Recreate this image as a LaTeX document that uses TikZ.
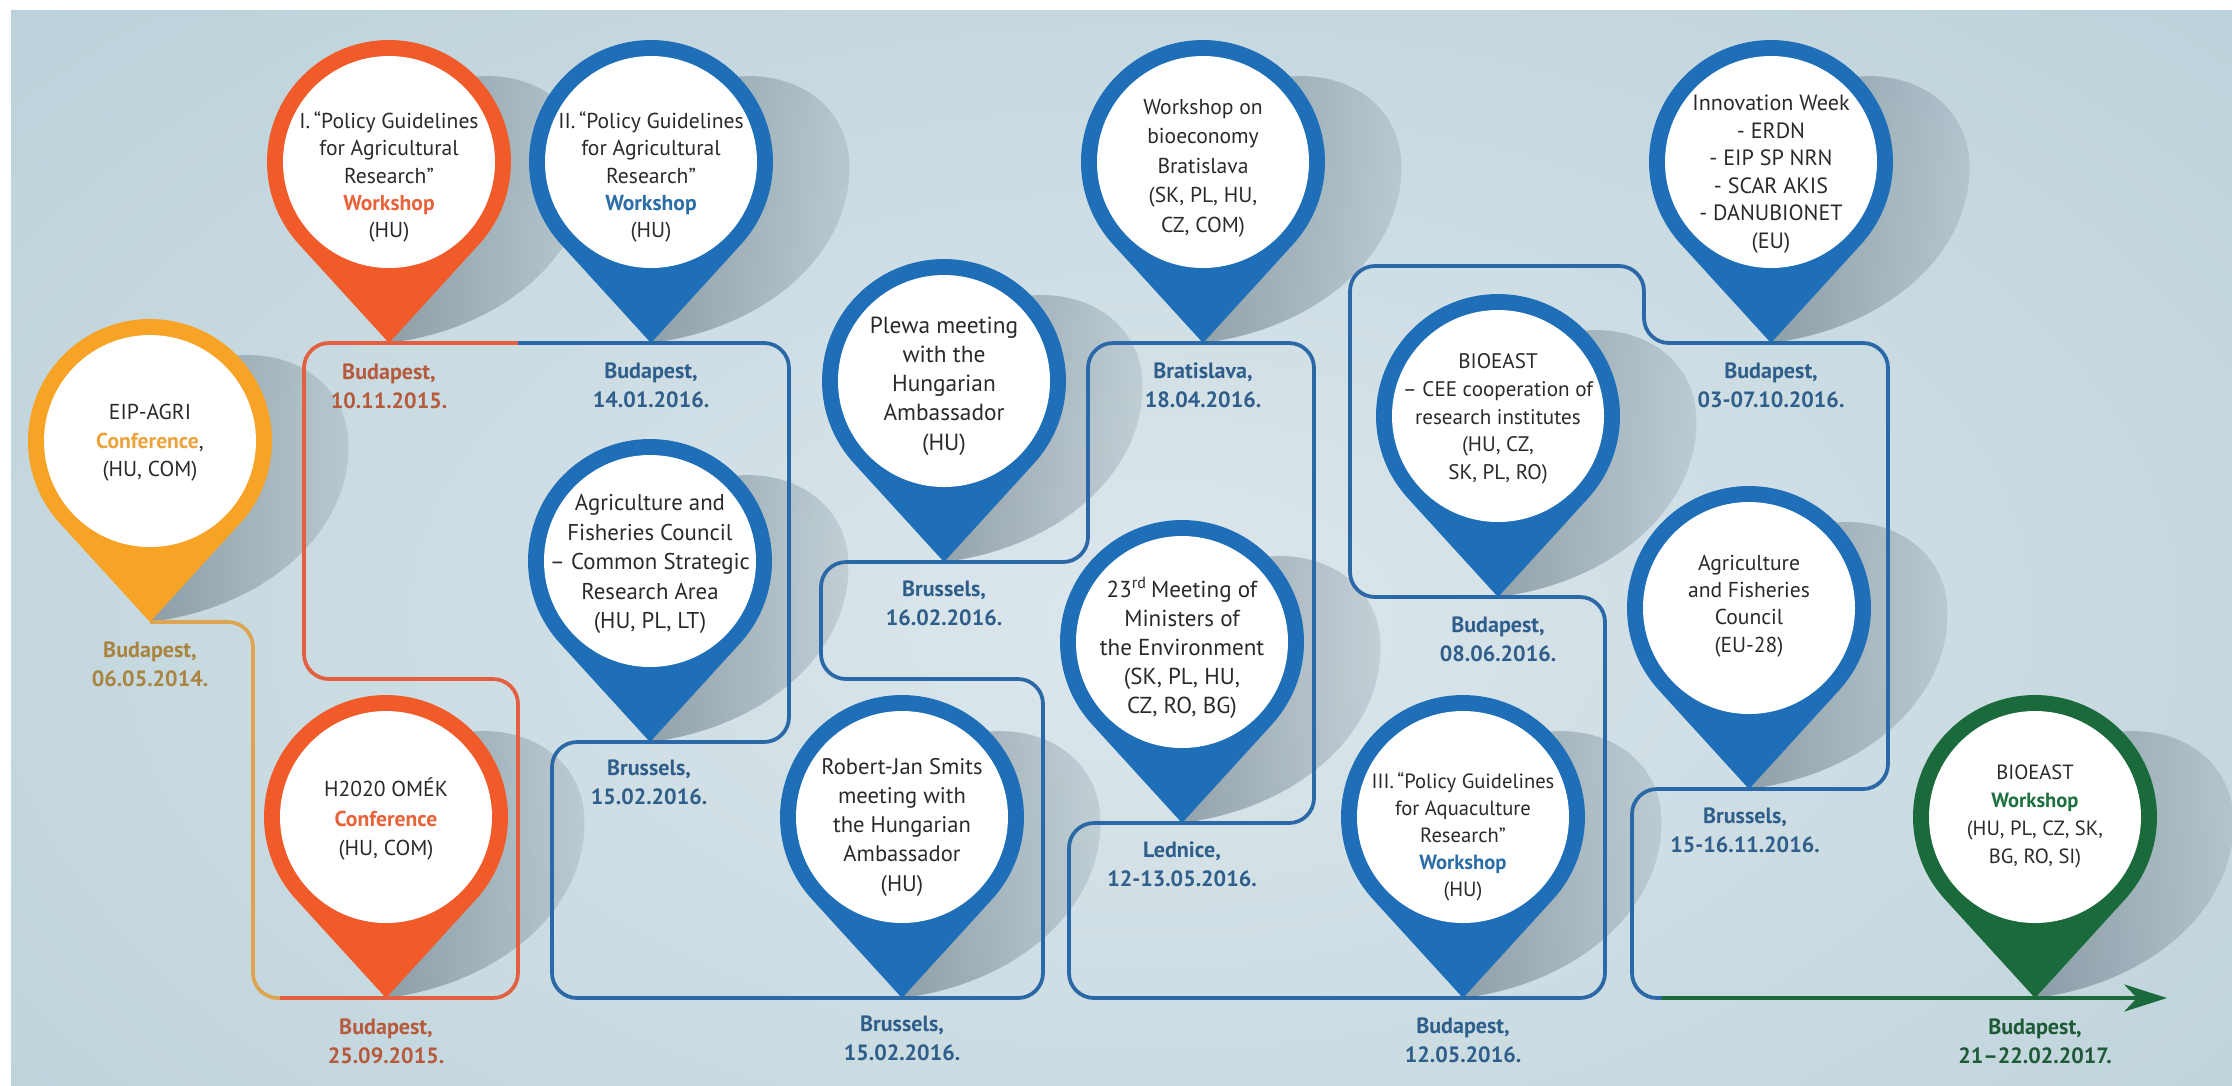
\documentclass[tikz,border=0pt]{standalone}
\usepackage{fontspec}
\setmainfont{PT Sans}
\usetikzlibrary{arrows.meta,fadings}
\definecolor{bgbase}{HTML}{B4CCD5}
\definecolor{bglight}{HTML}{DCE7EC}
\definecolor{pinblue}{HTML}{1F6FB8}
\definecolor{lineblue}{HTML}{2A68A8}
\definecolor{pinorange}{HTML}{F15A29}
\definecolor{lineorange}{HTML}{E2603F}
\definecolor{pinyellow}{HTML}{F7A325}
\definecolor{lineyellow}{HTML}{DDA452}
\definecolor{pingreen}{HTML}{1B6A3C}
\definecolor{dateblue}{HTML}{2F5E8A}
\definecolor{daterust}{HTML}{B65A3D}
\definecolor{dategold}{HTML}{A8843F}
\definecolor{dategreen}{HTML}{1F5A37}
\definecolor{wsorange}{HTML}{E8633A}
\definecolor{wsyellow}{HTML}{EBA43C}
\definecolor{wsblue}{HTML}{2B6DA5}
\definecolor{wsgreen}{HTML}{1F7040}
\definecolor{txt}{HTML}{2A2A2A}
\definecolor{shadowc}{HTML}{4E5F6B}
\newcommand\fs[2]{\fontsize{#1}{#2}\selectfont}
% pin shadow: centre x, centre y of the pin
\newcommand\pinshadow[2]{%
  \begin{scope}[shift={(#1,#2+181)}]
    \fill[shadowc, fill opacity=0.13] (0,0) .. controls (120,-15) and (205,-95) .. (198,-185)
      .. controls (192,-255) and (110,-290) .. (30,-250) -- cycle;
    \fill[shadowc, fill opacity=0.4, path fading=east] (0,0) .. controls (120,-15) and (205,-95) .. (198,-185)
      .. controls (192,-255) and (110,-290) .. (30,-250) -- cycle;
  \end{scope}}
% pin body: tip name, colour, centre x, centre y
\newcommand\pinbody[4]{%
  \fill[#2] (#3,#4) ++(137.6:122) arc[start angle=137.6, end angle=402.4, radius=122] -- (#3,#4+181) coordinate (#1) -- cycle;
  \fill[white] (#3,#4) circle[radius=106];}
\begin{document}
\begin{tikzpicture}[x=0.014cm, y=-0.014cm,
  pintext/.style={align=center, text=txt, inner sep=0pt},
  datetext/.style={align=center, inner sep=0pt, font=\bfseries\fs{8.8}{11.6}},
  tl/.style={line width=1.5pt, rounded corners=0.35cm}]
\useasboundingbox (0,0) rectangle (2232,1085);
\fill[white] (0,0) rectangle (2232,1085);
\begin{scope}
  \clip (11,10) rectangle (2232,1085);
  \fill[bgbase] (11,10) rectangle (2232,1085);
  \shade[inner color=bglight, outer color=bgbase] (1150,620) ellipse[x radius=1900, y radius=1100];
\end{scope}

% shadows
\pinshadow{150}{441}
\pinshadow{389}{162}
\pinshadow{651}{162}
\pinshadow{650}{561}
\pinshadow{386}{817}
\pinshadow{944}{381}
\pinshadow{902}{817}
\pinshadow{1203}{162}
\pinshadow{1498}{416}
\pinshadow{1182}{642}
\pinshadow{1463}{817}
\pinshadow{1771}{162}
\pinshadow{1749}{608}
\pinshadow{2035}{817}

% named tip coordinates
\coordinate (tEIP) at (150,622);
\coordinate (tI) at (389,343);
\coordinate (tII) at (651,343);
\coordinate (tAF) at (650,742);
\coordinate (tH) at (386,998);
\coordinate (tPl) at (944,562);
\coordinate (tRJ) at (902,998);
\coordinate (tBr) at (1203,343);
\coordinate (tCEE) at (1498,597);
\coordinate (tMin) at (1182,823);
\coordinate (tIII) at (1463,998);
\coordinate (tInn) at (1771,343);
\coordinate (tEU) at (1749,789);
\coordinate (tG) at (2035,998);
\coordinate (cY) at (280,998);
\coordinate (cO) at (518,343);
\coordinate (cB) at (1662,998);
\coordinate (arrowend) at (2167,998);

% timeline connectors
\draw[tl, lineyellow] (tEIP) -- (253,622) -- (253,998) -- (cY);
\draw[tl, lineorange] (cY) -- (tH) -- (518,998) -- (518,679) -- (304,679) -- (304,343) -- (tI) -- (cO);
\draw[tl, lineblue] (cO) -- (tII) -- (789,343) -- (789,742) -- (tAF) -- (552,742) -- (552,998)
  -- (tRJ) -- (1043,998) -- (1043,679) -- (821,679) -- (821,562) -- (tPl) -- (1088,562) -- (1088,343)
  -- (tBr) -- (1314,343) -- (1314,823) -- (tMin) -- (1069,823) -- (1069,998) -- (tIII) -- (1605,998)
  -- (1605,597) -- (tCEE) -- (1350,597) -- (1350,266) -- (1644,266) -- (1644,343) -- (tInn)
  -- (1888,343) -- (1888,789) -- (tEU) -- (1632,789) -- (1632,998) -- (cB);
\draw[tl, pingreen, -{Stealth[length=0.6cm, width=0.38cm, inset=0.18cm]}] (cB) -- (tG) -- (arrowend);

% pins
\pinbody{pEIP}{pinyellow}{150}{441}
\pinbody{pI}{pinorange}{389}{162}
\pinbody{pII}{pinblue}{651}{162}
\pinbody{pAF}{pinblue}{650}{561}
\pinbody{pH}{pinorange}{386}{817}
\pinbody{pPl}{pinblue}{944}{381}
\pinbody{pRJ}{pinblue}{902}{817}
\pinbody{pBr}{pinblue}{1203}{162}
\pinbody{pCEE}{pinblue}{1498}{416}
\pinbody{pMin}{pinblue}{1182}{642}
\pinbody{pIII}{pinblue}{1463}{817}
\pinbody{pInn}{pinblue}{1771}{162}
\pinbody{pEU}{pinblue}{1749}{608}
\pinbody{pG}{pingreen}{2035}{817}

% pin texts
\node[pintext, font=\fs{8.6}{11.35}] (xEIP) at (150,443) {EIP-AGRI\\{\bfseries\color{wsyellow}Conference},\\(HU, COM)};
\node[pintext, font=\fs{8.6}{10.84}] (xI) at (389,177) {I.\,“Policy Guidelines\\for Agricultural\\Research”\\{\bfseries\color{wsorange}Workshop}\\(HU)};
\node[pintext, font=\fs{8.6}{10.84}] (xII) at (651,177) {II.\,“Policy Guidelines\\for Agricultural\\Research”\\{\bfseries\color{wsblue}Workshop}\\(HU)};
\node[pintext, font=\fs{9.1}{11.75}] (xAF) at (650,564) {Agriculture and\\Fisheries Council\\– Common Strategic\\Research Area\\(HU, PL, LT)};
\node[pintext, font=\fs{8.6}{11.9}] (xH) at (386,819) {H2020 OMÉK\\{\bfseries\color{wsorange}Conference}\\(HU, COM)};
\node[pintext, font=\fs{9.3}{11.67}] (xPl) at (944,386) {Plewa meeting\\with the\\Hungarian\\Ambassador\\(HU)};
\node[pintext, font=\fs{9.0}{11.67}] (xRJ) at (902,827) {Robert-Jan Smits\\meeting with\\the Hungarian\\Ambassador\\(HU)};
\node[pintext, font=\fs{8.6}{11.79}] (xBr) at (1203,168) {Workshop on\\bioeconomy\\Bratislava\\(SK, PL, HU,\\CZ, COM)};
\node[pintext, font=\fs{8.4}{11.04}] (xCEE) at (1498,419) {BIOEAST\\– CEE cooperation of\\research institutes\\(HU, CZ,\\SK, PL, RO)};
\node[pintext, font=\fs{9.2}{11.55}] (xMin) at (1182,648) {23\textsuperscript{rd}\,Meeting of\\Ministers of\\the Environment\\(SK, PL, HU,\\CZ, RO, BG)};
\node[pintext, font=\fs{8.2}{10.76}] (xIII) at (1463,837) {III.\,“Policy Guidelines\\for Aquaculture\\Research”\\{\bfseries\color{wsblue}Workshop}\\(HU)};
\node[pintext, font=\fs{8.8}{10.96}] (xInn) at (1771,174) {Innovation Week\\- ERDN\\- EIP SP NRN\\- SCAR AKIS\\- DANUBIONET\\(EU)};
\node[pintext, font=\fs{8.6}{10.88}] (xEU) at (1749,606) {Agriculture\\and Fisheries\\Council\\(EU-28)};
\node[pintext, font=\fs{8.2}{11.16}] (xG) at (2035,816) {BIOEAST\\{\bfseries\color{wsgreen}Workshop}\\(HU, PL, CZ, SK,\\BG, RO, SI)};

% dates
\node[datetext, text=dategold] (dEIP) at (150,664) {Budapest,\\06.05.2014.};
\node[datetext, text=daterust] (dI) at (389,386) {Budapest,\\10.11.2015.};
\node[datetext, text=dateblue] (dII) at (651,385) {Budapest,\\14.01.2016.};
\node[datetext, text=dateblue] (dAF) at (649,782) {Brussels,\\15.02.2016.};
\node[datetext, text=daterust] (dH) at (386,1041) {Budapest,\\25.09.2015.};
\node[datetext, text=dateblue] (dPl) at (944,603) {Brussels,\\16.02.2016.};
\node[datetext, text=dateblue] (dRJ) at (902,1038) {Brussels,\\15.02.2016.};
\node[datetext, text=dateblue] (dBr) at (1203,385) {Bratislava,\\18.04.2016.};
\node[datetext, text=dateblue] (dCEE) at (1498,639) {Budapest,\\08.06.2016.};
\node[datetext, text=dateblue] (dMin) at (1182,864) {Lednice,\\12-13.05.2016.};
\node[datetext, text=dateblue] (dIII) at (1463,1040) {Budapest,\\12.05.2016.};
\node[datetext, text=dateblue] (dInn) at (1771,385) {Budapest,\\03-07.10.2016.};
\node[datetext, text=dateblue] (dEU) at (1745,830) {Brussels,\\15-16.11.2016.};
\node[datetext, text=dategreen] (dG) at (2035,1041) {Budapest,\\21–22.02.2017.};
\end{tikzpicture}
\end{document}
